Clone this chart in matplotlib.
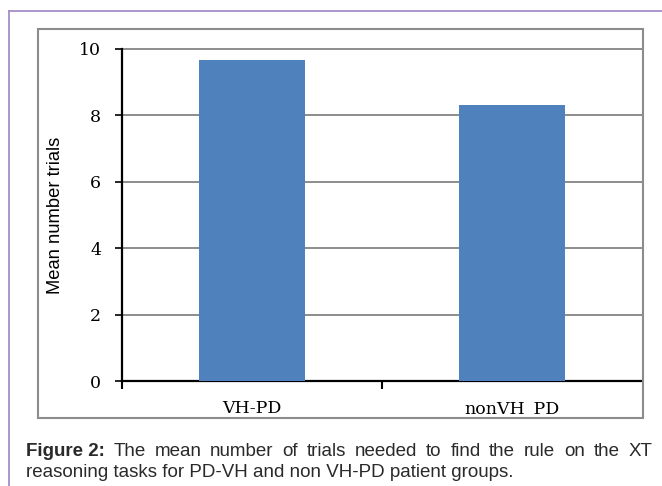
import matplotlib.pyplot as plt
import matplotlib.patches as patches
import matplotlib.lines as mlines

# Dane wykresu
groups = ['VH-PD', 'nonVH_PD']
mean_trials = [9.67, 8.31]
y_ticks = [0, 2, 4, 6, 8, 10]

W, H = 662, 486
fig = plt.figure(figsize=(W / 100, H / 100), dpi=100)
fig.patch.set_facecolor('white')


def px(x, y):
    # piksele obrazka -> współrzędne figury
    return x / W, 1 - y / H


# Fioletowa ramka (górna i lewa krawędź)
purple = '#A58FC9'
fig.add_artist(mlines.Line2D([px(9, 0)[0], 1.0], [px(0, 11)[1]] * 2, color=purple, lw=1.3))
fig.add_artist(mlines.Line2D([px(9, 0)[0]] * 2, [px(0, 11)[1], 0.0], color=purple, lw=1.3))

# Szara ramka wykresu
x0, y0 = px(38, 418)
x1, y1 = px(643, 29)
fig.add_artist(patches.Rectangle((x0, y0), x1 - x0, y1 - y0, transform=fig.transFigure,
                                 fill=False, edgecolor='#8C8C8C', lw=1.5))

# Osie
ax_l, ax_b = px(122, 381)
ax_r, ax_t = px(642, 49)
ax = fig.add_axes([ax_l, ax_b, ax_r - ax_l, ax_t - ax_b])

xs = range(len(groups))
ax.bar(xs, mean_trials, width=0.404, color='#4F81BD', zorder=3)

ax.set_xlim(-0.5, len(groups) - 0.5)
ax.set_ylim(0, 10)
ax.set_yticks(y_ticks)
ax.set_yticklabels([str(t) for t in y_ticks], fontfamily='DejaVu Serif', fontsize=12.5)
ax.yaxis.grid(True, color='#8C8C8C', lw=1.4, zorder=0)
ax.set_axisbelow(True)
for gl in ax.get_ygridlines():
    gl.set_clip_on(False)

ax.set_xticks(list(xs))
ax.set_xticklabels(groups, fontfamily='DejaVu Serif', fontsize=12.5)
ax.tick_params(axis='x', which='major', length=0, pad=14)
ax.set_xticks([-0.5, 0.5], minor=True)
ax.tick_params(axis='x', which='minor', length=6, width=1.5, direction='out')
ax.tick_params(axis='y', length=5, width=1.2, direction='out', pad=10)

for side in ['top', 'right']:
    ax.spines[side].set_visible(False)
ax.spines['left'].set_linewidth(1.6)
ax.spines['bottom'].set_linewidth(1.6)

fig.text(*px(56, 215), 'Mean number trials', rotation=90, ha='center', va='center',
         fontfamily='Liberation Sans', fontsize=13.2)

# Podpis - pierwsza linia wyjustowana do prawej krawędzi
cap_color = '#2A2A2A'
cap_size = 13.5
line1_words = ['The', 'mean', 'number', 'of', 'trials', 'needed', 'to', 'find', 'the',
               'rule', 'on', 'the', 'XT']
renderer = fig.canvas.get_renderer()
head = fig.text(*px(26, 451), 'Figure 2:', ha='left', va='center', fontfamily='Liberation Sans',
                fontsize=cap_size, fontweight='bold', color=cap_color)
head_w = head.get_window_extent(renderer).width
word_artists = []
widths = []
for w in line1_words:
    t = fig.text(0, px(0, 451)[1], w, ha='left', va='center', fontfamily='Liberation Sans',
                 fontsize=cap_size, color=cap_color)
    word_artists.append(t)
    widths.append(t.get_window_extent(renderer).width)
start = 26 + head_w
end = 652
gap = (end - start - sum(widths)) / len(line1_words)
xpos = start + gap
for t, wd in zip(word_artists, widths):
    t.set_x(xpos / W)
    xpos += wd + gap

fig.text(*px(26, 472), 'reasoning tasks for PD-VH and non VH-PD patient groups.',
         ha='left', va='center', fontfamily='Liberation Sans', fontsize=cap_size, color=cap_color)

plt.savefig('out.png', dpi=100)
plt.close()
